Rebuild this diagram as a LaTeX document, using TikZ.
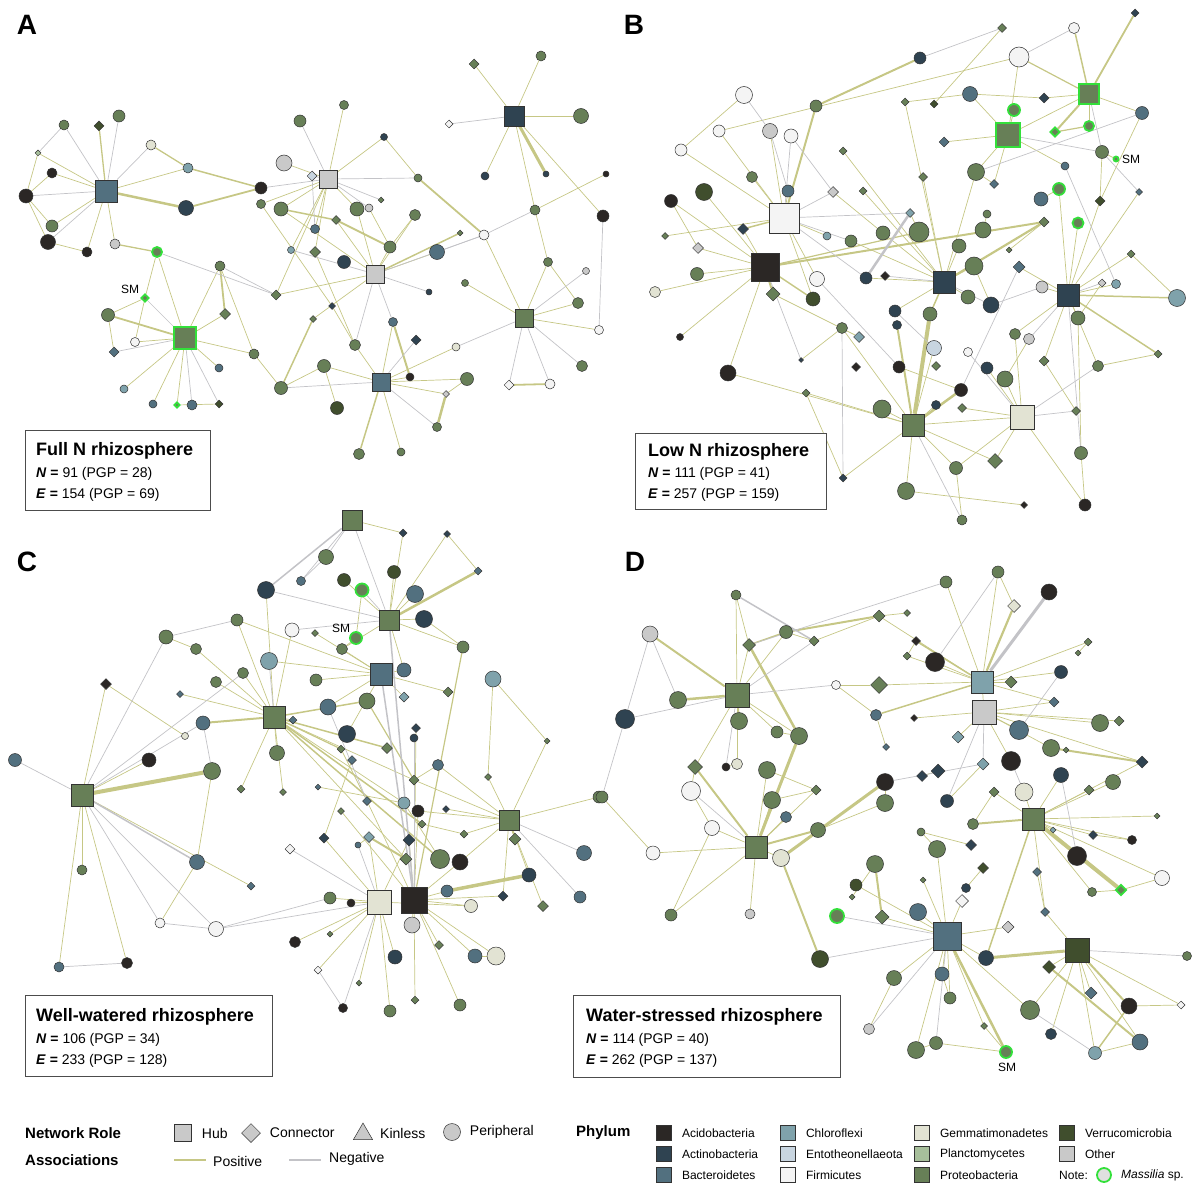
\documentclass[tikz,border=0pt]{standalone}
\usepackage{fontspec}
\setmainfont{Liberation Sans}
\usetikzlibrary{shapes.geometric, positioning, backgrounds}
\definecolor{cAci}{HTML}{2B2725}
\definecolor{cAct}{HTML}{2F4351}
\definecolor{cBac}{HTML}{52707F}
\definecolor{cChl}{HTML}{7FA2AB}
\definecolor{cEnt}{HTML}{C8D5E0}
\definecolor{cFir}{HTML}{F4F4F4}
\definecolor{cGem}{HTML}{E2E3D3}
\definecolor{cPla}{HTML}{A7BF9B}
\definecolor{cPro}{HTML}{677F57}
\definecolor{cVer}{HTML}{404E2D}
\definecolor{cOth}{HTML}{C9C9C9}
\definecolor{cMass}{HTML}{33E03A}
\definecolor{cPos}{HTML}{C6C785}
\definecolor{cNeg}{HTML}{C3C3C7}
\definecolor{cLine}{HTML}{333333}
\newcommand{\statN}{\textbf{\textit{N} =}}
\newcommand{\statE}{\textbf{\textit{E} =}}
\tikzset{
  netnode/.style={inner sep=0pt, draw=cLine, line width=0.5pt},
  hubn/.style={netnode, rectangle, minimum size=#1},
  conn/.style={netnode, diamond, minimum size=#1},
  pern/.style={netnode, circle, minimum size=#1},
  aci/.style={fill=cAci}, act/.style={fill=cAct}, bac/.style={fill=cBac},
  chl/.style={fill=cChl}, ent/.style={fill=cEnt}, fir/.style={fill=cFir},
  gem/.style={fill=cGem}, pla/.style={fill=cPla}, pro/.style={fill=cPro},
  ver/.style={fill=cVer}, oth/.style={fill=cOth},
  mpro/.style={fill=cPro, draw=cMass, line width=1.8pt},
  posedge/.style={draw=cPos, line width=0.7pt},
  negedge/.style={draw=cNeg, line width=0.7pt},
  infobox/.style={draw=black!70, line width=0.8pt, fill=white, anchor=north west, inner sep=0pt},
  boxhead/.style={font=\fontsize{18}{20}\selectfont\bfseries, anchor=base west, inner sep=0pt},
  boxline/.style={font=\fontsize{14}{16}\selectfont, anchor=base west, inner sep=0pt},
  paneltag/.style={font=\fontsize{28}{30}\selectfont\bfseries, inner sep=0pt},
  smtag/.style={font=\fontsize{12}{14}\selectfont, inner sep=0pt},
  legtitle/.style={font=\fontsize{15}{18}\selectfont\bfseries, anchor=west, inner sep=0pt},
  legtext/.style={font=\fontsize{14}{16}\selectfont, inner sep=0pt},
  phytext/.style={font=\fontsize{12}{14}\selectfont, inner sep=0pt},
  legsq/.style={netnode, rectangle, minimum size=15pt, line width=0.7pt}
}

\begin{document}
\begin{tikzpicture}[x=1pt, y=-1pt]
  \useasboundingbox (0,0) rectangle (1200,1193);

  % panel tags
  \node[paneltag] (tagA) at (27,25) {A};
  \node[paneltag] (tagB) at (634,25) {B};
  \node[paneltag] (tagC) at (27,562) {C};
  \node[paneltag] (tagD) at (635,562) {D};

  % ---- panel A: full N
  \foreach \n/\x/\y/\r/\s/\p in {
    a1/106/191/hubn/22/bac, a2/64/125/pern/10/pro, a3/99/126/conn/10/ver, a4/119/116/pern/12/pro,
    a5/38/153/conn/6/pla, a6/52/173/pern/10/aci, a8/26/196/pern/14/aci, a9/52/226/pern/12/pro,
    a10/48/242/pern/15/aci, a11/87/252/pern/10/aci, a12/151/145/pern/10/gem, a13/188/168/pern/10/chl,
    a14/186/208/pern/15/act, a15/261/188/pern/12/aci, a16/115/244/pern/10/oth,
    a17/157/252/pern/10/mpro, a18/145/298/conn/8/mpro, a19/185/338/hubn/22/mpro, a20/108/315/pern/13/pro,
    a21/135/342/pern/9/fir, a22/114/352/conn/10/bac, a23/124/389/pern/8/chl, a24/153/404/pern/8/bac,
    a25/177/405/conn/6/mpro, a26/192/405/pern/10/bac, a27/219/404/conn/8/ver, a28/219/368/pern/8/bac,
    a29/254/354/pern/10/pro, a30/225/314/conn/11/pro, a31/220/266/pern/10/pro,
    a32/328/179/hubn/18/oth, a33/375/274/hubn/18/oth, a34/381/382/hubn/18/bac,
    a35/344/105/pern/9/pro, a36/300/121/pern/12/pro, a37/284/163/pern/16/oth, a38/312/176/conn/10/ent,
    a39/384/137/pern/7/act, a40/418/178/pern/8/pro, a41/261/204/pern/9/pro, a42/281/209/pern/14/pro,
    a43/357/209/pern/14/pro, a44/369/208/pern/8/oth, a45/381/200/conn/6/pro, a46/336/220/conn/9/pro,
    a47/415/215/pern/11/pro, a48/315/229/pern/9/bac, a49/291/250/pern/7/chl, a50/315/252/conn/11/pro,
    a51/344/262/pern/13/act, a52/390/247/pern/12/pro, a53/437/252/pern/15/bac, a54/460/233/conn/6/pro,
    a55/484/235/pern/10/fir, a56/276/295/conn/10/pro, a57/332/306/conn/7/act, a58/313/319/conn/7/pro,
    a59/393/322/pern/9/bac, a60/429/292/pern/6/act, a61/465/283/pern/7/pro, a62/355/345/pern/11/pro,
    a63/324/366/pern/13/pro, a64/416/340/conn/10/act, a65/410/377/pern/8/aci, a66/456/347/pern/8/gem,
    a67/281/388/pern/13/pro, a68/337/408/pern/13/ver, a69/446/394/conn/7/oth, a70/467/379/pern/13/pro,
    a71/437/427/pern/9/pro, a72/359/454/pern/11/pro, a73/401/452/pern/8/pro,
    a74/514/116/hubn/20/act, a75/474/64/conn/10/pro, a76/541/56/pern/10/pro, a77/449/124/conn/8/fir,
    a78/581/116/pern/15/pro, a79/485/176/pern/8/act, a80/546/174/pern/6/act, a81/535/210/pern/10/pro,
    a82/548/262/pern/9/pro, a83/586/271/pern/7/oth, a84/524/318/hubn/18/pro, a85/578/303/pern/11/pro,
    a86/599/330/pern/9/fir, a87/582/366/pern/11/pro, a88/509/385/conn/10/fir, a89/550/384/pern/10/fir,
    a90/603/216/pern/12/aci, a91/606/174/pern/6/aci}
    \node[\r=\s, \p] (\n) at (\x,\y) {};
  \node[smtag] (smA) at (130,289) {SM};

  % ---- panel B: low N
  \foreach \n/\x/\y/\r/\s/\p in {
    b1/1002/28/conn/9/pro, b2/1074/28/pern/11/fir, b3/1135/13/conn/8/act, b4/920/58/pern/12/act,
    b5/1019/57/pern/20/fir, b6/744/95/pern/17/fir, b7/816/106/pern/12/pro, b8/905/102/conn/8/pro,
    b9/934/104/conn/8/ver, b10/970/94/pern/15/bac, b11/1044/98/conn/10/act, b12/1089/94/hubn/20/mpro,
    b13/1142/113/pern/13/bac, b14/1014/110/pern/12/mpro, b15/719/131/pern/12/fir, b16/770/131/pern/15/oth,
    b17/791/136/pern/14/fir, b18/681/150/pern/12/fir, b19/1008/135/hubn/24/mpro, b20/1055/132/conn/10/mpro,
    b21/1089/126/pern/10/mpro, b22/944/142/conn/10/bac, b23/843/151/conn/8/pro, b24/1102/152/pern/13/pro,
    b25/1116/159/pern/5/mpro, b26/1065/166/pern/8/bac, b27/976/172/pern/17/pro, b28/752/177/pern/11/pro,
    b29/923/177/conn/9/pro, b30/704/192/pern/17/ver, b31/671/201/pern/13/aci, b32/788/191/pern/12/bac,
    b33/833/192/conn/11/oth, b34/863/191/conn/8/pro, b35/994/184/conn/9/bac, b36/1059/189/pern/12/mpro,
    b37/1041/199/pern/14/bac, b38/1100/201/conn/10/ver, b39/1139/192/conn/7/bac, b40/784/218/hubn/30/fir,
    b41/665/236/conn/7/pro, b42/743/229/conn/11/act, b43/827/236/pern/8/chl, b44/910/213/conn/9/chl,
    b45/987/214/pern/8/pro, b46/1078/223/pern/11/mpro, b47/1044/222/conn/10/pro, b48/851/241/pern/12/pro,
    b49/883/233/pern/14/pro, b50/919/232/pern/20/pro, b51/983/230/pern/16/pro, b52/698/248/conn/11/oth,
    b53/765/267/hubn/28/aci, b54/959/246/pern/14/pro, b55/1009/250/conn/6/pro, b56/1131/254/conn/8/pro,
    b57/697/274/pern/13/pro, b58/817/279/pern/15/fir, b59/866/278/pern/12/act, b60/885/276/conn/9/aci,
    b61/944/282/hubn/22/act, b62/974/266/pern/18/pro, b63/1019/267/conn/12/bac, b64/1042/287/pern/12/oth,
    b65/1102/283/conn/8/oth, b66/1116/284/pern/9/chl, b67/1068/295/hubn/22/act, b68/1177/298/pern/17/chl,
    b69/655/292/pern/11/gem, b70/773/294/conn/14/pro, b71/813/299/pern/14/ver, b72/968/297/pern/14/pro,
    b73/991/305/pern/16/act, b74/895/311/pern/12/act, b75/930/314/pern/14/pro, b76/1078/318/pern/14/pro,
    b77/897/325/pern/9/act, b78/680/337/pern/7/aci, b79/842/328/pern/11/pro, b80/859/337/conn/11/chl,
    b81/1015/334/pern/11/pro, b82/1029/339/pern/11/oth, b83/934/348/pern/15/ent, b84/968/352/pern/9/fir,
    b85/1158/354/conn/8/pro, b86/801/360/conn/5/act, b87/728/373/pern/16/aci, b88/856/367/conn/9/aci,
    b89/899/367/pern/12/aci, b90/936/366/conn/9/pro, b91/987/368/pern/12/act, b92/1005/379/pern/16/pro,
    b93/1044/361/conn/10/pro, b94/1098/366/pern/11/pro, b95/806/393/conn/8/pro, b96/961/390/pern/13/aci,
    b97/882/409/pern/18/pro, b98/913/425/hubn/22/pro, b99/936/405/pern/9/act, b100/962/408/conn/9/pro,
    b101/1022/417/hubn/24/gem, b102/1076/411/conn/9/pro, b103/995/461/conn/15/pro, b104/956/468/pern/13/pro,
    b105/1081/453/pern/13/pro, b106/843/478/conn/8/act, b107/906/491/pern/17/pro, b108/1024/505/conn/7/aci,
    b109/1085/505/pern/12/aci, b110/962/520/pern/10/pro}
    \node[\r=\s, \p] (\n) at (\x,\y) {};
  \node[smtag, anchor=west] (smB) at (1122,159) {SM};

  % ---- panel C: well-watered
  \foreach \n/\x/\y/\r/\s/\p in {
    c1/352/520/hubn/20/pro, c2/403/533/conn/8/act, c3/447/534/conn/7/act, c4/326/557/pern/15/pro,
    c5/301/581/pern/9/bac, c6/344/580/pern/13/ver, c7/394/572/pern/13/ver, c8/362/590/pern/13/mpro,
    c9/266/590/pern/17/act, c10/415/594/pern/17/bac, c11/478/571/conn/8/bac, c12/389/620/hubn/20/pro,
    c13/424/619/pern/17/act, c14/237/620/pern/12/pro, c15/292/630/pern/14/fir, c16/315/633/conn/7/pro,
    c17/356/638/pern/12/mpro, c18/342/649/pern/11/pro, c19/166/637/pern/14/pro, c20/196/649/pern/11/pro,
    c21/463/647/pern/12/pro, c22/269/661/pern/17/chl, c23/243/673/pern/11/pro, c24/381/674/hubn/22/bac,
    c25/404/670/pern/14/bac, c26/493/679/pern/16/chl, c27/216/682/pern/11/pro, c28/316/680/pern/12/pro,
    c29/106/684/conn/11/aci, c30/180/694/conn/7/bac, c31/367/701/pern/16/pro, c32/328/707/pern/16/bac,
    c33/404/697/conn/10/chl, c34/448/692/conn/10/pro, c35/274/717/hubn/22/pro, c36/203/723/pern/14/bac,
    c37/293/720/conn/8/bac, c38/347/734/pern/17/act, c39/185/736/pern/7/gem, c40/416/728/conn/9/act,
    c41/414/738/pern/8/act, c42/547/741/conn/6/pro, c43/15/760/pern/13/bac, c44/149/760/pern/14/aci,
    c45/212/771/pern/17/pro, c46/277/753/pern/15/pro, c47/341/749/conn/8/pro, c48/352/760/conn/9/bac,
    c49/387/748/conn/11/pro, c50/438/765/pern/11/bac, c51/488/777/conn/7/pro, c52/82/795/hubn/22/pro,
    c53/241/789/conn/8/pro, c54/283/792/conn/7/pro, c55/318/787/conn/6/bac, c56/414/780/conn/10/pro,
    c57/341/811/conn/7/pro, c58/367/801/conn/9/bac, c59/404/803/pern/12/chl, c60/418/811/pern/12/aci,
    c61/446/809/conn/7/act, c62/509/820/hubn/20/pro, c63/599/797/pern/12/pro, c64/422/824/conn/8/pro,
    c65/324/838/conn/10/act, c66/369/837/conn/11/chl, c67/358/845/pern/6/bac, c68/409/840/conn/12/act,
    c69/464/834/conn/8/pro, c70/515/839/conn/12/pro, c71/290/849/conn/10/fir, c72/406/859/conn/12/pro,
    c73/440/859/pern/19/pro, c74/460/862/pern/16/aci, c75/584/853/pern/15/bac, c76/197/862/pern/15/bac,
    c77/529/875/pern/14/act, c78/251/886/conn/8/bac, c79/82/870/pern/10/pro, c80/379/902/hubn/24/gem,
    c81/414/900/hubn/26/aci, c82/330/898/pern/12/pro, c83/351/903/pern/8/aci, c84/447/891/pern/12/bac,
    c85/471/906/pern/13/gem, c86/503/896/conn/10/act, c87/543/906/conn/11/pro, c88/580/897/pern/12/bac,
    c89/412/925/pern/16/oth, c90/160/923/pern/10/fir, c91/216/929/pern/15/fir, c92/295/942/pern/11/aci,
    c93/330/934/conn/6/pro, c94/439/945/conn/9/pro, c95/395/957/pern/14/act, c96/475/956/pern/14/bac,
    c97/496/956/pern/18/gem, c98/59/967/pern/10/bac, c99/127/963/pern/11/aci, c100/318/970/conn/8/fir,
    c101/359/983/conn/6/pro, c102/415/1000/conn/8/pro, c103/343/1008/pern/9/aci, c104/390/1011/pern/12/pro,
    c105/460/1005/pern/12/pro}
    \node[\r=\s, \p] (\n) at (\x,\y) {};
  \node[smtag] (smC) at (341,628) {SM};

  % ---- panel D: water-stressed
  \foreach \n/\x/\y/\r/\s/\p in {
    d1/998/572/pern/12/pro, d2/946/582/pern/12/pro, d3/1049/592/pern/16/aci, d4/1014/606/conn/13/gem,
    d5/736/595/pern/10/pro, d6/879/616/conn/12/pro, d7/907/613/conn/7/pro, d8/650/634/pern/16/oth,
    d9/786/632/pern/13/pro, d10/749/645/conn/13/pro, d11/814/641/conn/10/pro, d12/916/641/conn/9/aci,
    d13/907/656/conn/8/pro, d14/935/662/pern/19/aci, d15/982/682/hubn/22/chl, d16/1011/682/conn/12/pro,
    d17/1088/642/conn/8/pro, d18/1078/653/conn/6/pro, d19/1061/672/pern/13/act, d20/836/685/pern/9/fir,
    d21/879/685/conn/17/pro, d22/737/695/hubn/24/pro, d23/678/700/pern/17/pro, d24/625/719/pern/19/act,
    d25/739/721/pern/17/pro, d26/777/732/pern/12/pro, d27/799/736/pern/17/pro, d28/984/712/hubn/24/oth,
    d29/876/715/pern/11/bac, d30/914/718/conn/7/aci, d31/1054/702/conn/10/bac, d32/1100/723/pern/17/pro,
    d33/1119/721/conn/10/pro, d34/1019/730/pern/19/bac, d35/958/737/conn/12/chl, d36/886/747/conn/7/bac,
    d37/1051/748/pern/17/pro, d38/1066/750/conn/6/pro, d39/1011/761/pern/19/aci, d40/1142/762/conn/12/act,
    d41/983/764/conn/12/chl, d42/695/767/conn/15/pro, d43/726/767/pern/8/aci, d44/737/764/pern/11/gem,
    d45/767/770/pern/17/pro, d46/691/791/pern/19/fir, d47/922/776/conn/11/act, d48/938/771/conn/14/act,
    d49/885/782/pern/17/aci, d50/1061/775/pern/15/act, d51/1113/782/pern/15/pro, d52/816/790/conn/10/pro,
    d53/994/792/conn/10/pro, d54/1024/792/pern/18/gem, d55/1089/790/conn/10/pro, d56/772/800/pern/17/pro,
    d57/885/803/pern/17/pro, d58/947/801/pern/13/act, d59/786/817/pern/11/bac, d60/1033/819/hubn/22/pro,
    d61/1157/816/conn/6/pro, d62/602/797/pern/12/pro, d63/712/828/pern/15/fir, d64/818/830/pern/15/pro,
    d65/921/832/pern/8/pro, d66/973/824/pern/11/pro, d67/1053/830/conn/6/chl, d68/1093/835/conn/9/act,
    d69/1132/840/pern/9/aci, d70/971/845/conn/11/act, d71/756/847/hubn/22/pro, d72/653/853/pern/14/fir,
    d73/781/858/pern/17/gem, d74/937/849/pern/17/pro, d75/1077/856/pern/19/aci, d76/875/864/pern/17/pro,
    d77/983/868/conn/11/ver, d78/1162/878/pern/15/fir, d79/1121/890/conn/11/mpro, d80/856/885/pern/12/ver,
    d81/1037/872/conn/9/bac, d82/923/880/conn/6/pro, d83/966/888/pern/9/act, d84/1092/892/pern/9/pro,
    d85/962/901/conn/13/fir, d86/852/897/conn/6/pro, d87/671/915/pern/12/pro, d88/750/914/pern/10/oth,
    d89/837/916/pern/14/mpro, d90/882/917/conn/14/pro, d91/918/912/pern/17/bac, d92/1045/912/conn/9/bac,
    d93/1008/927/conn/12/oth, d94/947/936/hubn/28/bac, d95/1187/956/pern/9/pro, d96/820/959/pern/17/ver,
    d97/986/958/pern/15/act, d98/1077/950/hubn/24/ver, d99/1049/967/conn/13/ver, d100/894/978/pern/15/pro,
    d101/942/974/pern/14/bac, d102/1091/993/conn/12/bac, d103/950/998/pern/12/pro, d104/1030/1010/pern/19/pro,
    d105/1129/1006/pern/16/aci, d106/1181/1005/conn/8/fir, d107/869/1029/pern/11/oth, d108/984/1026/conn/7/pro,
    d109/1051/1034/pern/11/act, d110/916/1050/pern/17/pro, d111/936/1043/pern/13/pro, d112/1006/1052/pern/12/mpro,
    d113/1095/1053/pern/13/chl, d114/1140/1042/pern/16/bac}
    \node[\r=\s, \p] (\n) at (\x,\y) {};
  \node[smtag] (smD) at (1007,1067) {SM};

  % ---- associations
  \begin{pgfonlayer}{background}
    % positive, thin
    \foreach \a/\b in {
      a1/a5, a1/a6, a1/a9, a1/a11, a1/a13, a1/a16, a5/a8, a6/a8, a8/a9, a8/a10, a10/a11, a17/a18,
      a17/a19, a18/a20, a18/a21, a19/a21, a19/a23, a19/a24, a19/a25, a19/a28, a19/a29, a19/a30, a19/a31,
      a20/a22, a25/a27, a29/a67, a32/a35, a32/a37, a32/a39, a32/a41, a32/a42, a32/a43, a32/a48, a32/a50,
      a32/a56, a32/a49, a33/a46, a33/a47, a33/a52, a33/a53, a33/a56, a33/a42, a33/a43, a33/a58,
      a34/a59, a34/a65, a34/a66, a34/a63, a34/a69, a34/a70, a34/a73, a34/a62, a63/a67, a39/a40,
      a55/a84, a69/a70, a84/a85, a84/a82, a84/a86, a74/a75, a74/a76, a74/a78, a74/a79, a74/a81,
      a74/a90, a81/a82, a82/a85, a63/a68, a41/a57, a44/a52, a61/a84, a47/a52, a50/a62, a57/a62,
      a81/a91, a31/a29,
      b40/b15, b40/b16, b40/b28, b40/b32, b40/b41, b40/b43, b40/b71, b40/b58, b40/b18, b53/b30, b53/b31,
      b53/b57, b53/b52, b53/b69, b53/b78, b53/b87, b53/b42, b61/b27, b61/b29, b61/b34, b61/b48, b61/b49,
      b61/b54, b61/b59, b61/b62, b61/b72, b61/b74, b61/b23, b61/b8, b67/b63, b67/b64, b67/b66, b67/b56,
      b67/b76, b67/b94, b67/b46, b67/b38, b67/b39, b67/b36, b67/b81, b98/b97, b98/b99, b98/b103,
      b98/b104, b98/b107, b98/b106, b98/b101, b98/b95, b98/b87, b98/b79, b98/b83, b101/b100, b101/b103,
      b101/b104, b101/b109, b101/b92, b101/b91, b101/b81, b12/b11, b12/b13, b12/b21, b12/b19, b19/b14,
      b19/b5, b19/b10, b19/b22, b19/b26, b19/b35, b19/b27, b5/b15, b107/b108, b105/b109, b89/b96,
      b27/b35, b62/b73, b85/b94, b24/b38, b13/b38, b68/b56, b10/b11, b45/b51, b44/b50, b31/b52,
      b70/b80, b86/b79, b95/b106, b110/b104, b1/b9, b8/b10, b33/b49, b65/b76, b82/b92, b93/b102,
      b93/b67, b105/b76, b47/b55, b6/b18, b37/b36, b24/b25,
      c52/c29, c52/c44, c52/c79, c52/c98, c52/c99, c52/c78, c35/c30, c35/c14, c35/c20, c35/c23,
      c35/c46, c35/c9, c35/c27, c35/c15, c35/c37, c35/c53, c35/c54, c35/c72, c35/c59, c35/c56, c29/c39,
      c1/c2, c12/c10, c12/c13, c12/c7, c12/c18, c12/c21, c12/c2, c12/c3, c12/c6, c12/c25, c24/c25,
      c24/c28, c24/c33, c24/c34, c24/c16, c24/c18, c24/c32, c24/c22, c24/c38, c24/c14, c62/c63,
      c62/c86, c62/c87, c62/c42, c62/c51, c62/c69, c62/c60, c62/c74, c62/c77, c62/c56, c62/c50,
      c80/c82, c80/c83, c80/c92, c80/c93, c80/c100, c80/c101, c80/c104, c80/c95, c80/c66, c80/c65,
      c80/c68, c80/c85, c81/c84, c81/c85, c81/c89, c81/c94, c81/c96, c81/c97, c81/c102, c81/c105,
      c81/c86, c81/c60, c81/c74, c81/c68, c81/c58, c81/c40, c26/c42, c26/c51, c50/c56, c76/c90,
      c76/c45, c19/c20, c8/c17, c17/c18, c13/c21, c57/c81, c47/c58, c48/c65, c59/c73, c61/c62,
      c64/c69, c96/c97, c11/c3, c55/c59, c67/c66,
      d22/d5, d22/d10, d22/d9, d22/d42, d22/d26, d22/d27, d22/d44, d15/d1, d15/d2, d15/d14, d15/d16,
      d15/d19, d15/d21, d15/d28, d15/d13, d15/d17, d15/d31, d15/d6, d28/d30, d28/d34, d28/d35, d28/d37,
      d28/d32, d28/d39, d28/d33, d28/d40, d28/d31, d71/d45, d71/d56, d71/d63, d71/d72, d71/d73,
      d71/d87, d71/d88, d71/d59, d71/d52, d60/d51, d60/d54, d60/d55, d60/d61, d60/d67, d60/d68,
      d60/d69, d60/d75, d60/d84, d60/d78, d60/d50, d60/d40, d60/d92, d60/d53, d94/d90, d94/d91,
      d94/d100, d94/d101, d94/d103, d94/d104, d94/d110, d94/d97, d94/d93, d94/d108, d94/d85, d94/d82,
      d94/d80, d94/d74, d98/d99, d98/d102, d98/d113, d98/d114, d98/d104, d98/d106, d98/d92, d98/d109,
      d5/d10, d9/d11, d11/d6, d6/d7, d20/d21, d42/d46, d43/d44, d63/d46, d87/d63, d57/d49, d57/d64,
      d65/d74, d66/d53, d76/d86, d100/d107, d110/d111, d111/d112, d112/d108, d105/d106, d113/d114,
      d78/d79, d84/d79, d68/d69, d38/d37, d41/d58, d47/d48, d36/d29, d18/d17, d12/d13, d20/d29,
      d52/d56, d26/d27, d64/d73, d45/d52, d83/d77, d81/d92, d103/d101, d62/d72, d70/d65, d4/d1}
      \draw[posedge] (\a) -- (\b);
    % positive, heavier
    \foreach \a/\b/\w in {
      a1/a3/1.3, a1/a14/2.5, a12/a13/1.3, a13/a15/1.5, a14/a15/1.8, a19/a20/1.8, a30/a31/1.8,
      a42/a46/1.5, a46/a52/1.8, a40/a55/1.8, a65/a59/2, a69/a71/2.5, a88/a89/1.8, a74/a80/3,
      a58/a67/1.5, a72/a34/1.5, a33/a54/1.5, a16/a17/1.3,
      b40/b7/2, b7/b4/2, b40/b42/1.5, b53/b70/2, b53/b71/1.5, b53/b47/2, b53/b50/1.2, b61/b47/2.2,
      b67/b68/1.5, b67/b85/1.5, b98/b75/4, b98/b77/2, b98/b96/2.5, b12/b2/1.5, b12/b3/1.8,
      b12/b20/2, b12/b5/1.2, b20/b21/1.2, b61/b75/1.5,
      c52/c45/4, c35/c36/2, c35/c31/1.5, c35/c49/1.5, c35/c64/1.5, c35/c73/1.5, c12/c11/2.5,
      c84/c77/3.5, c66/c72/2, c62/c70/1.5, c21/c81/1.2, c31/c56/1.2, c35/c47/1.2,
      d22/d8/2, d22/d23/2.5, d22/d25/2, d15/d4/2.2, d15/d12/1.5, d15/d29/1.5, d71/d42/2, d71/d27/3,
      d10/d27/2.5, d71/d64/2, d73/d49/3, d60/d66/2, d60/d79/4, d60/d97/1.5, d94/d112/2.5, d98/d97/3,
      d98/d105/2, d99/d114/2, d90/d76/2, d96/d73/2, d113/d105/1.5, d9/d6/2, d10/d9/1.5, d37/d40/2}
      \draw[posedge, line width=\w] (\a) -- (\b);
    % negative
    \foreach \a/\b in {
      a1/a2, a1/a4, a1/a8, a1/a10, a1/a12, a2/a5, a15/a32, a17/a56, a18/a19, a19/a22, a19/a26, a19/a27,
      a31/a56, a32/a36, a32/a38, a32/a40, a32/a45, a33/a55, a33/a60, a33/a62, a33/a49, a34/a64,
      a34/a67, a34/a71, a74/a77, a84/a87, a84/a88, a84/a89, a84/a83, a66/a84, a53/a55, a55/a81,
      a90/a86, a38/a48, a59/a33, a32/a44,
      b40/b17, b40/b33, b40/b48, b40/b59, b40/b44, b61/b60, b61/b73, b67/b65, b67/b82, b67/b105,
      b101/b102, b101/b84, b101/b94, b98/b110, b12/b24, b19/b24, b6/b16, b1/b4, b16/b32, b17/b33,
      b73/b64, b63/b96, b27/b13, b24/b39, b26/b66, b53/b86, b58/b89, b74/b83, b79/b106, b2/b5,
      c52/c43, c52/c91, c52/c90, c52/c23, c52/c19, c52/c36, c36/c45, c1/c4, c1/c5, c1/c12, c12/c8,
      c12/c15, c12/c9, c62/c88, c62/c75, c80/c91, c80/c103, c81/c41, c90/c91, c98/c99, c91/c82,
      c22/c35, c5/c4, c14/c19, c71/c80, c32/c58, c100/c103, c67/c80,
      d22/d24, d22/d20, d22/d11, d22/d43, d28/d41, d28/d58, d71/d46, d94/d89, d94/d111, d94/d107,
      d94/d96, d98/d95, d8/d24, d23/d8, d2/d10, d19/d34, d39/d54, d50/d75, d104/d113, d1/d14,
      d49/d41, d62/d24}
      \draw[negedge] (\a) -- (\b);
    \foreach \a/\b/\w in {c52/c76/1.5, c12/c81/1.5, c1/c9/1.5, c24/c81/1.5, b44/b59/2.5,
      d15/d3/3, d5/d11/1.5}
      \draw[negedge, line width=\w] (\a) -- (\b);
  \end{pgfonlayer}

  % ---- info boxes
  \node[infobox, minimum width=185pt, minimum height=80pt] (boxA) at (25,430) {};
  \node[boxhead] (headA) at (36,455) {Full N rhizosphere};
  \node[boxline] (nA) at (36,477) {\statN{} 91 (PGP = 28)};
  \node[boxline] (eA) at (36,498) {\statE{} 154 (PGP = 69)};
  \node[infobox, minimum width=191pt, minimum height=76pt] (boxB) at (635,433) {};
  \node[boxhead] (headB) at (648,456) {Low N rhizosphere};
  \node[boxline] (nB) at (648,477) {\statN{} 111 (PGP = 41)};
  \node[boxline] (eB) at (648,498) {\statE{} 257 (PGP = 159)};
  \node[infobox, minimum width=247pt, minimum height=81pt] (boxC) at (25,995) {};
  \node[boxhead] (headC) at (36,1021) {Well-watered rhizosphere};
  \node[boxline] (nC) at (36,1043) {\statN{} 106 (PGP = 34)};
  \node[boxline] (eC) at (36,1064) {\statE{} 233 (PGP = 128)};
  \node[infobox, minimum width=267pt, minimum height=82pt] (boxD) at (573,995) {};
  \node[boxhead] (headD) at (586,1021) {Water-stressed rhizosphere};
  \node[boxline] (nD) at (586,1043) {\statN{} 114 (PGP = 40)};
  \node[boxline] (eD) at (586,1064) {\statE{} 262 (PGP = 137)};

  % ---- legend
  \node[legtitle] (lrole) at (25,1133) {Network Role};
  \node[legtitle] (lassoc) at (25,1160) {Associations};
  \node[hubn=17, oth] (lhub) at (183,1133) {};
  \node[legtext, right=10pt of lhub] (thub) {Hub};
  \node[conn=19, oth] (lcon) at (251,1133) {};
  \node[legtext, right=9pt of lcon] (tcon) {Connector};
  \node[netnode, oth, regular polygon, regular polygon sides=3, minimum size=22pt] (lkin) at (363,1134) {};
  \node[legtext, anchor=west] (tkin) at (380,1133) {Kinless};
  \node[pern=17, oth] (lper) at (452,1132) {};
  \node[legtext, right=9pt of lper] (tper) {Peripheral};
  \coordinate (lp1) at (174,1160);
  \coordinate (lp2) at (206,1160);
  \draw[posedge, line width=2.5pt] (lp1) -- (lp2);
  \node[legtext, anchor=west] (tpos) at (213,1161) {Positive};
  \coordinate (ln1) at (289,1160);
  \coordinate (ln2) at (321,1160);
  \draw[negedge, line width=2.5pt] (ln1) -- (ln2);
  \node[legtext, anchor=west] (tneg) at (329,1159) {Negative};

  \node[legtitle] (lphy) at (576,1133) {Phylum};
  \foreach \n/\x/\y/\p/\t in {
    q1/664/1133/aci/Acidobacteria, q2/664/1154/act/Actinobacteria, q3/664/1175/bac/Bacteroidetes,
    q4/788/1133/chl/Chloroflexi, q5/788/1154/ent/Entotheonellaeota, q6/788/1175/fir/Firmicutes,
    q7/922/1133/gem/Gemmatimonadetes, q8/922/1154/pla/Planctomycetes, q9/922/1175/pro/Proteobacteria,
    q10/1067/1133/ver/Verrucomicrobia, q11/1067/1154/oth/Other}
    {
    \node[legsq, \p] (\n) at (\x,\y) {};
    \node[phytext, right=10pt of \n] (t\n) {\t};
    }
  \node[phytext, anchor=west] (tnote) at (1059,1175) {Note:};
  \node[pern=14, fill=black!12, draw=cMass, line width=1.8pt] (lmas) at (1104,1175) {};
  \node[phytext, right=9pt of lmas] (tmas) {\textit{Massilia} sp.};
\end{tikzpicture}
\end{document}
